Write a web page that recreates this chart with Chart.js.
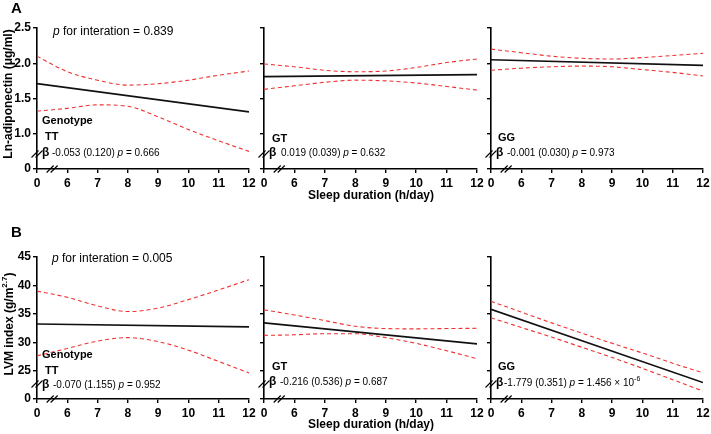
<!DOCTYPE html>
<html>
<head>
<meta charset="utf-8">
<script src="https://cdn.jsdelivr.net/npm/chart.js@4.4.1/dist/chart.umd.min.js"></script>
<style>
  html, body { margin: 0; padding: 0; background: #fff; }
  #wrap { position: relative; width: 711px; height: 434px; }
  #wrap canvas { position: absolute; left: 0; }
</style>
</head>
<body>
<div id="wrap">
  <canvas id="a1" width="711" height="217" style="top:0"></canvas>
  <canvas id="a2" width="711" height="217" style="top:0"></canvas>
  <canvas id="a3" width="711" height="217" style="top:0"></canvas>
  <canvas id="b1" width="711" height="217" style="top:217px"></canvas>
  <canvas id="b2" width="711" height="217" style="top:217px"></canvas>
  <canvas id="b3" width="711" height="217" style="top:217px"></canvas>
</div>
<script>
// sleep duration (h/day); 5 sits just after the axis break and is shown as "0"
const hours = [5, 6, 7, 8, 9, 10, 11, 12];
const fitHours = [5, 12];
const xTicks = [5, 6, 7, 8, 9, 10, 11, 12];

// Ln-adiponectin (A) - fitted line, upper and lower 95% CI
const adipFitTT = [1.71, 1.31];
const adipUpTT  = [2.10, 1.88, 1.76, 1.69, 1.71, 1.76, 1.83, 1.89];
const adipLoTT  = [1.32, 1.36, 1.41, 1.39, 1.24, 1.06, 0.90, 0.75];
const adipFitGT = [1.81, 1.84];
const adipUpGT  = [1.99, 1.95, 1.90, 1.88, 1.89, 1.94, 2.01, 2.06];
const adipLoGT  = [1.63, 1.68, 1.73, 1.76, 1.75, 1.72, 1.67, 1.62];
const adipFitGG = [2.05, 1.97];
const adipUpGG  = [2.20, 2.15, 2.10, 2.07, 2.06, 2.08, 2.11, 2.14];
const adipLoGG  = [1.90, 1.93, 1.95, 1.96, 1.95, 1.91, 1.87, 1.82];

// LVM index (B)
const lvmFitTT = [33.2, 32.7];
const lvmUpTT  = [39.0, 37.9, 36.4, 35.4, 36.0, 37.5, 39.2, 41.0];
const lvmLoTT  = [27.6, 28.9, 30.2, 30.8, 30.1, 28.6, 26.6, 24.6];
const lvmFitGT = [33.4, 29.7];
const lvmUpGT  = [35.7, 34.8, 33.8, 32.8, 32.4, 32.35, 32.4, 32.45];
const lvmLoGT  = [31.2, 31.3, 31.5, 31.5, 30.8, 29.8, 28.5, 27.1];
const lvmFitGG = [35.8, 22.9];
const lvmUpGG  = [37.2, 35.3, 33.4, 31.6, 29.8, 28.1, 26.3, 24.6];
const lvmLoGG  = [34.3, 32.6, 30.9, 29.1, 27.3, 25.4, 23.4, 21.4];

// y ticks; the lowest value sits after the break and is shown as "0"
const adipTicks = [0.5, 1.0, 1.5, 2.0, 2.5];
const lvmTicks = [20, 25, 30, 35, 40, 45];

const FONT = 'Arial, "Liberation Sans", sans-serif';
const RED = 'rgb(238, 50, 50)';
const ROW_H = 217;

function toXY(xs, ys) {
  return xs.map((x, i) => ({ x: x, y: ys[i] }));
}

// draws a run of text pieces, each [text, style, size, dy]
function rich(ctx, x, y, parts) {
  ctx.textBaseline = 'middle';
  ctx.textAlign = 'left';
  parts.forEach(p => {
    ctx.font = (p[1] || '') + ' ' + (p[2] || 10) + 'px ' + FONT;
    ctx.fillText(p[0], x, y + (p[3] || 0));
    x += ctx.measureText(p[0]).width;
  });
}

function breakMark(ctx, cx, cy) {
  ctx.save();
  ctx.strokeStyle = '#000';
  ctx.lineWidth = 1.1;
  [-2, 2].forEach(d => {
    ctx.beginPath();
    ctx.moveTo(cx + d - 3.5, cy + 3.5);
    ctx.lineTo(cx + d + 3.5, cy - 3.5);
    ctx.stroke();
  });
  ctx.restore();
}

function xTitle(ctx, y) {
  ctx.font = 'bold 12px ' + FONT;
  ctx.textAlign = 'center';
  ctx.textBaseline = 'middle';
  ctx.fillText('Sleep duration (h/day)', 371, y);
}

function panel(id, box, yr, fit, up, lo, notes, extra) {
  const notesPlugin = {
    id: 'notes',
    afterDraw(chart) {
      const ctx = chart.ctx;
      const a = chart.chartArea;
      ctx.save();
      ctx.fillStyle = '#000';
      notes.forEach(n => rich(ctx, n.x, n.y, n.parts));
      breakMark(ctx, a.left, a.bottom - 15);
      breakMark(ctx, chart.scales.x.getPixelForValue(5.5), a.bottom);
      if (extra) extra.draw(ctx);
      ctx.restore();
    }
  };
  const showY = !!(extra && extra.yLabels);
  new Chart(document.getElementById(id), {
    type: 'line',
    data: {
      datasets: [
        { data: toXY(fitHours, fit), borderColor: '#111', borderWidth: 1.7, tension: 0 },
        { data: toXY(hours, up), borderColor: RED, borderWidth: 1.1, borderDash: [4, 3], cubicInterpolationMode: 'monotone' },
        { data: toXY(hours, lo), borderColor: RED, borderWidth: 1.1, borderDash: [4, 3], cubicInterpolationMode: 'monotone' }
      ]
    },
    options: {
      responsive: false,
      animation: false,
      devicePixelRatio: 1,
      layout: { padding: { left: box.left - 34, right: 711 - box.right, top: box.top, bottom: ROW_H - box.bottom - 34 } },
      elements: { point: { radius: 0 } },
      plugins: { legend: { display: false }, tooltip: { enabled: false } },
      scales: {
        x: {
          type: 'linear', min: 5, max: 12,
          afterBuildTicks: s => { s.ticks = xTicks.map(v => ({ value: v })); },
          afterFit: s => { s.height = 34; s.paddingLeft = 0; s.paddingRight = 0; },
          ticks: {
            callback: v => v === 5 ? '0' : String(v),
            color: '#000', font: { family: FONT, size: 12, weight: 'bold' },
            padding: 3, maxRotation: 0, autoSkip: false
          },
          grid: { drawOnChartArea: false, tickLength: 4, color: '#000', lineWidth: 1.4 },
          border: { color: '#000', width: 1.6 }
        },
        y: {
          type: 'linear', min: yr.ticks[0], max: yr.ticks[yr.ticks.length - 1],
          afterBuildTicks: s => { s.ticks = yr.ticks.map(v => ({ value: v })); },
          afterFit: s => { s.width = 34; s.paddingTop = 0; s.paddingBottom = 0; },
          ticks: {
            display: showY,
            callback: v => v === yr.ticks[0] ? '0' : yr.fmt(v),
            color: '#000', font: { family: FONT, size: 12, weight: 'bold' },
            padding: 2
          },
          grid: { drawOnChartArea: false, tickLength: 4, color: '#000', lineWidth: 1.4 },
          border: { color: '#000', width: 1.6 }
        }
      }
    },
    plugins: [notesPlugin]
  });
}

const rowA = { top: 28, bottom: 169 };
const rowB = { top: 257 - ROW_H, bottom: 399 - ROW_H };
const cols = [[37, 249], [264, 477], [491, 703]];
const box = (row, c) => ({ left: cols[c][0], right: cols[c][1], top: row.top, bottom: row.bottom });

const adipAxis = { ticks: adipTicks, fmt: v => v.toFixed(1) };
const lvmAxis = { ticks: lvmTicks, fmt: v => String(v) };

panel('a1', box(rowA, 0), adipAxis, adipFitTT, adipUpTT, adipLoTT, [
  { x: 53, y: 32, parts: [['p', 'italic', 12], [' for interation = 0.839', '', 12]] },
  { x: 42, y: 121, parts: [['Genotype', 'bold', 11]] },
  { x: 45, y: 137, parts: [['TT', 'bold', 11]] },
  { x: 42, y: 153, parts: [['β', 'bold', 12]] },
  { x: 52, y: 153, parts: [['-0.053 (0.120) '], ['p', 'italic'], [' = 0.666']] }
], { yLabels: true, draw: ctx => {
  ctx.font = 'bold 15px ' + FONT;
  ctx.textAlign = 'left';
  ctx.textBaseline = 'middle';
  ctx.fillText('A', 11, 9);
  ctx.save();
  ctx.translate(9, 94);
  ctx.rotate(-Math.PI / 2);
  ctx.font = 'bold 12px ' + FONT;
  ctx.textAlign = 'center';
  ctx.fillText('Ln-adiponectin (μg/ml)', 0, 0);
  ctx.restore();
} });
panel('a2', box(rowA, 1), adipAxis, adipFitGT, adipUpGT, adipLoGT, [
  { x: 272, y: 139, parts: [['GT', 'bold', 11]] },
  { x: 269, y: 153, parts: [['β', 'bold', 12]] },
  { x: 281, y: 153, parts: [['0.019 (0.039) '], ['p', 'italic'], [' = 0.632']] }
], { draw: ctx => xTitle(ctx, 196) });
panel('a3', box(rowA, 2), adipAxis, adipFitGG, adipUpGG, adipLoGG, [
  { x: 498, y: 138, parts: [['GG', 'bold', 11]] },
  { x: 496, y: 153, parts: [['β', 'bold', 12]] },
  { x: 507, y: 153, parts: [['-0.001 (0.030) '], ['p', 'italic'], [' = 0.973']] }
], null);

panel('b1', box(rowB, 0), lvmAxis, lvmFitTT, lvmUpTT, lvmLoTT, [
  { x: 52, y: 42, parts: [['p', 'italic', 12], [' for interation = 0.005', '', 12]] },
  { x: 42, y: 138, parts: [['Genotype', 'bold', 11]] },
  { x: 45, y: 154, parts: [['TT', 'bold', 11]] },
  { x: 42, y: 168, parts: [['β', 'bold', 12]] },
  { x: 53, y: 168, parts: [['-0.070 (1.155) '], ['p', 'italic'], [' = 0.952']] }
], { yLabels: true, draw: ctx => {
  ctx.font = 'bold 15px ' + FONT;
  ctx.textAlign = 'left';
  ctx.textBaseline = 'middle';
  ctx.fillText('B', 11, 16);
  const main = 'LVM index (g/m', sup = '2.7', end = ')';
  ctx.font = 'bold 12px ' + FONT;
  const w1 = ctx.measureText(main).width, w3 = ctx.measureText(end).width;
  ctx.font = 'bold 8px ' + FONT;
  const w2 = ctx.measureText(sup).width;
  ctx.save();
  ctx.translate(10, 107);
  ctx.rotate(-Math.PI / 2);
  rich(ctx, -(w1 + w2 + w3) / 2, 0, [[main, 'bold', 12], [sup, 'bold', 8, -5], [end, 'bold', 12]]);
  ctx.restore();
} });
panel('b2', box(rowB, 1), lvmAxis, lvmFitGT, lvmUpGT, lvmLoGT, [
  { x: 272, y: 150, parts: [['GT', 'bold', 11]] },
  { x: 269, y: 165, parts: [['β', 'bold', 12]] },
  { x: 280, y: 165, parts: [['-0.216 (0.536) '], ['p', 'italic'], [' = 0.687']] }
], { draw: ctx => xTitle(ctx, 208) });
panel('b3', box(rowB, 2), lvmAxis, lvmFitGG, lvmUpGG, lvmLoGG, [
  { x: 498, y: 150, parts: [['GG', 'bold', 11]] },
  { x: 496, y: 166, parts: [['β', 'bold', 12]] },
  { x: 504, y: 166, parts: [['-1.779 (0.351) '], ['p', 'italic'], [' = 1.456 × 10'], ['-6', '', 7, -4]] }
], null);
</script>
</body>
</html>
